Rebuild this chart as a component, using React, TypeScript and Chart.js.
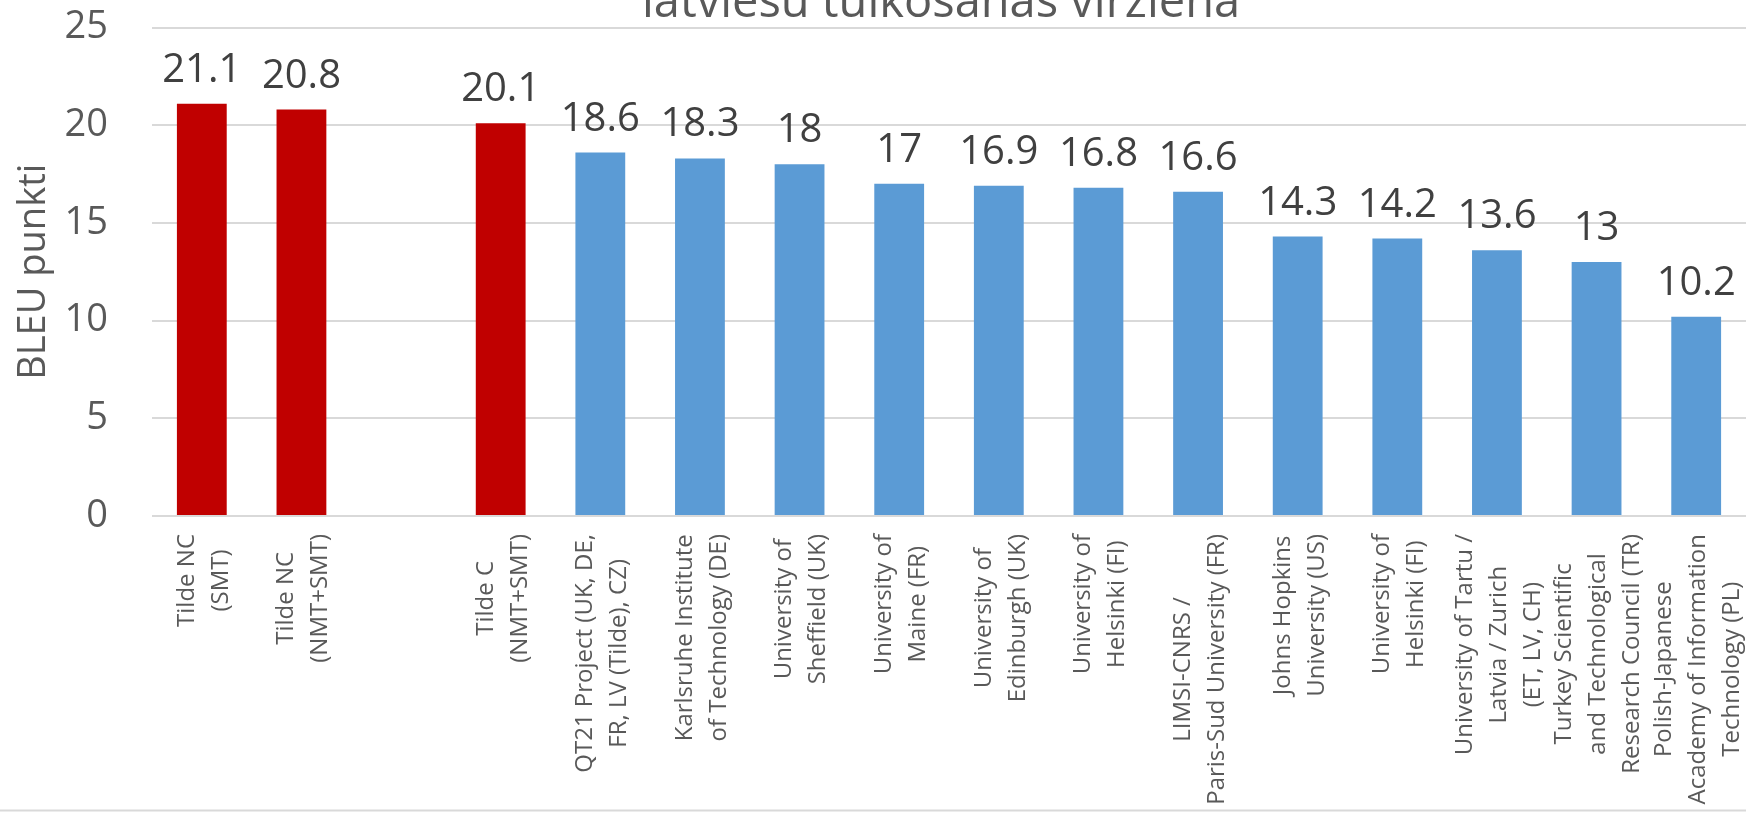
import React, { useEffect, useRef } from "react";
import { Chart, registerables } from "chart.js";

Chart.register(...registerables);

const FONT = "'Open Sans', 'Noto Sans', sans-serif";

const chartTitle = "latviešu tulkošanas virzienā";
const yAxisTitle = "BLEU punkti";

const categories: string[][] = [
  ["Tilde NC", "(SMT)"],
  ["Tilde NC", "(NMT+SMT)"],
  [""],
  ["Tilde C", "(NMT+SMT)"],
  ["QT21 Project (UK, DE,", "FR, LV (Tilde), CZ)"],
  ["Karlsruhe Institute", "of Technology (DE)"],
  ["University of", "Sheffield (UK)"],
  ["University of", "Maine (FR)"],
  ["University of", "Edinburgh (UK)"],
  ["University of", "Helsinki (FI)"],
  ["LIMSI-CNRS /", "Paris-Sud University (FR)"],
  ["Johns Hopkins", "University (US)"],
  ["University of", "Helsinki (FI)"],
  ["University of Tartu /", "Latvia / Zurich", "(ET, LV, CH)"],
  ["Turkey Scientific", "and Technological", "Research Council (TR)"],
  ["Polish-Japanese", "Academy of Information", "Technology (PL)"],
];

const bleuValues: (number | null)[] = [
  21.1, 20.8, null, 20.1, 18.6, 18.3, 18, 17, 16.9, 16.8, 16.6, 14.3, 14.2, 13.6, 13, 10.2,
];

const isTilde: boolean[] = [
  true, true, false, true, false, false, false, false, false, false, false, false, false, false, false, false,
];

const yTicks = { min: 0, max: 25, step: 5 };

const RED = "#C00000";
const BLUE = "#5B9BD5";

export default function App() {
  const canvasRef = useRef<HTMLCanvasElement | null>(null);

  useEffect(() => {
    const canvas = canvasRef.current;
    if (!canvas) return;

    const xLabelsPlugin = {
      id: "xLabels",
      afterDraw(chart: any) {
        const ctx = chart.ctx;
        const xs = chart.scales.x;
        const top = chart.chartArea.bottom + 18;
        const lh = 34;
        ctx.save();
        ctx.font = `24px ${FONT}`;
        ctx.fillStyle = "#595959";
        ctx.textAlign = "center";
        ctx.textBaseline = "middle";
        categories.forEach((lines, i) => {
          const x = xs.getPixelForValue(i);
          const maxW = Math.max(...lines.map((l) => ctx.measureText(l).width));
          ctx.save();
          ctx.translate(x + 2, top + maxW / 2);
          ctx.rotate(-Math.PI / 2);
          lines.forEach((l, j) => {
            ctx.fillText(l, 0, (j - (lines.length - 1) / 2) * lh);
          });
          ctx.restore();
        });
        ctx.restore();
      },
    };

    const dataLabelsPlugin = {
      id: "dataLabels",
      afterDatasetsDraw(chart: any) {
        const ctx = chart.ctx;
        const meta = chart.getDatasetMeta(0);
        ctx.save();
        ctx.font = `40px ${FONT}`;
        ctx.fillStyle = "#404040";
        ctx.textAlign = "center";
        ctx.textBaseline = "alphabetic";
        meta.data.forEach((bar: any, i: number) => {
          const v = bleuValues[i];
          if (v == null) return;
          ctx.fillText(String(v), bar.x, bar.y - 22);
        });
        ctx.restore();
      },
    };

    const titlePlugin = {
      id: "topTitle",
      afterDraw(chart: any) {
        const ctx = chart.ctx;
        const ca = chart.chartArea;
        ctx.save();
        ctx.font = `47px ${FONT}`;
        ctx.fillStyle = "#595959";
        ctx.textAlign = "center";
        ctx.textBaseline = "alphabetic";
        ctx.fillText(chartTitle, (ca.left + ca.right) / 2 - 8, 16.7);
        ctx.restore();
      },
    };

    const borderPlugin = {
      id: "bottomBorder",
      afterDraw(chart: any) {
        const ctx = chart.ctx;
        ctx.save();
        ctx.strokeStyle = "#d9d9d9";
        ctx.lineWidth = 2;
        ctx.beginPath();
        ctx.moveTo(0, 810.5);
        ctx.lineTo(chart.width, 810.5);
        ctx.stroke();
        ctx.restore();
      },
    };

    const chart = new Chart(canvas, {
      type: "bar",
      data: {
        labels: categories.map((c) => c.join(" ")),
        datasets: [
          {
            data: bleuValues as any,
            backgroundColor: isTilde.map((t) => (t ? RED : BLUE)),
            barPercentage: 0.5,
            categoryPercentage: 1,
          },
        ],
      },
      options: {
        responsive: false,
        animation: false,
        layout: { padding: { top: 27.5, right: 0, left: 0, bottom: 297 } },
        plugins: {
          legend: { display: false },
          tooltip: { enabled: false },
          title: { display: false },
        },
        scales: {
          x: {
            display: false,
          },
          y: {
            min: yTicks.min,
            max: yTicks.max,
            ticks: {
              stepSize: yTicks.step,
              font: { family: FONT, size: 38 },
              color: "#595959",
              padding: 44,
            },
            grid: { color: "#d9d9d9", lineWidth: 2, drawTicks: false },
            border: { display: false },
            title: {
              display: true,
              text: yAxisTitle,
              font: { family: FONT, size: 38 },
              color: "#595959",
              padding: { top: 11, bottom: 0 },
            },
            afterFit: (s: any) => {
              s.width = 152;
              s.paddingTop = 20;
              s.paddingBottom = 20;
            },
          },
        },
      },
      plugins: [dataLabelsPlugin, xLabelsPlugin, titlePlugin, borderPlugin],
    });

    return () => chart.destroy();
  }, []);

  return (
    <div style={{ position: "fixed", left: 0, top: 0, width: 1746, height: 813, background: "#fff" }}>
      <canvas ref={canvasRef} width={1746} height={813} style={{ display: "block" }} />
    </div>
  );
}
